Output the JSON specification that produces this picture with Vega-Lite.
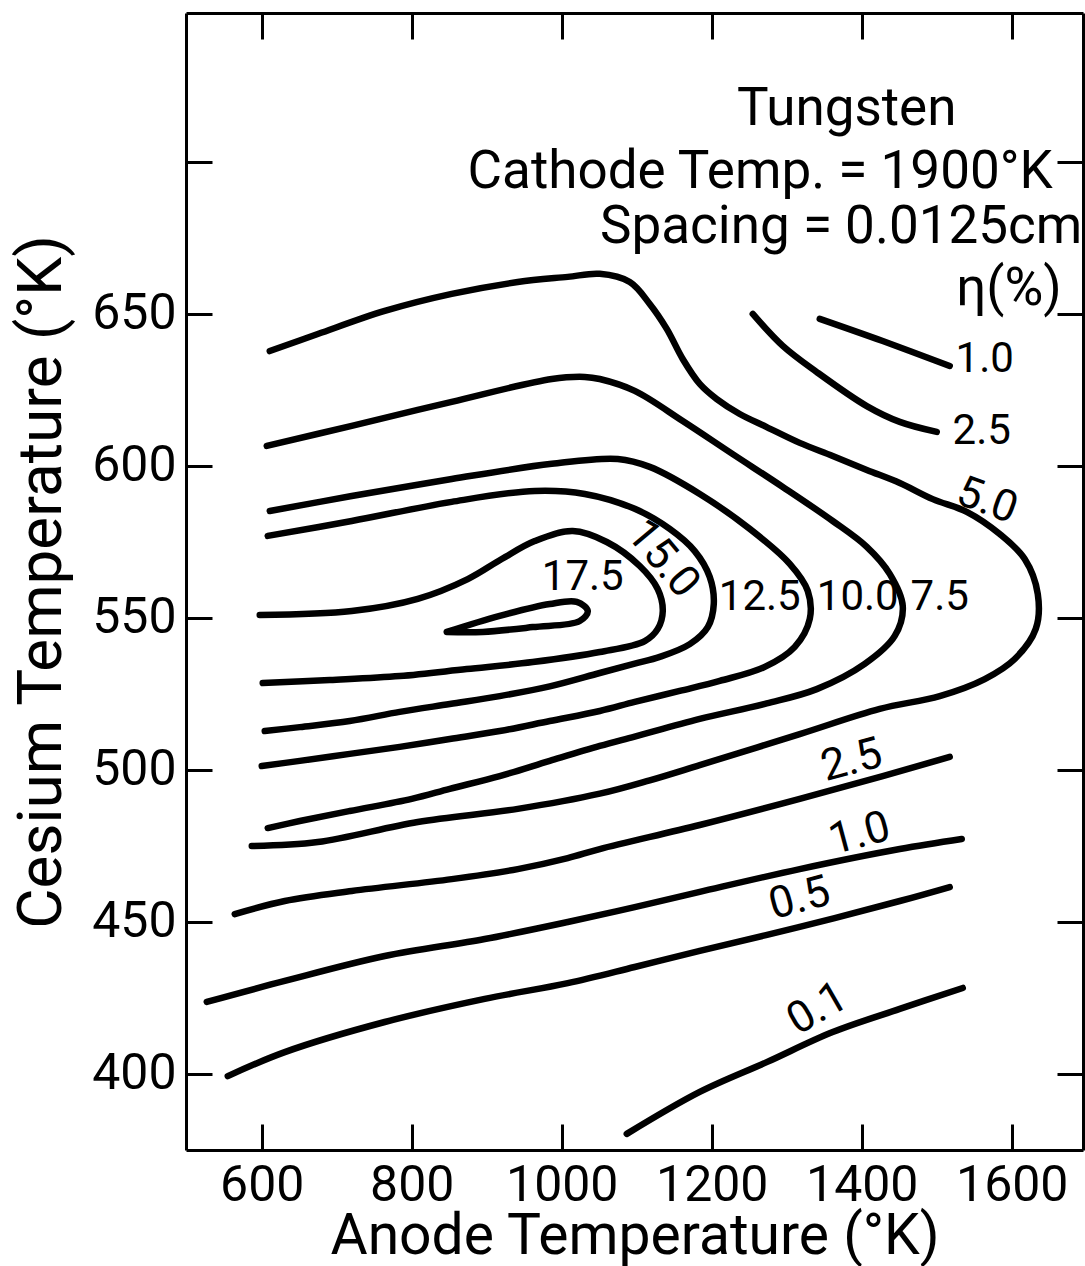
{
  "$schema": "https://vega.github.io/schema/vega-lite/v6.json",
  "width": 897,
  "height": 1137,
  "autosize": {"type": "none"},
  "padding": {"left": 186, "top": 13, "right": 2, "bottom": 116},
  "background": "white",
  "config": {
    "view": {"stroke": null},
    "axis": {
      "grid": false,
      "domainColor": "black",
      "domainWidth": 3,
      "tickColor": "black",
      "tickWidth": 3,
      "tickSize": -26,
      "labelFont": "Roboto",
      "labelFontSize": 50,
      "labelColor": "black",
      "labelFlush": false,
      "labelOverlap": false,
      "titleFont": "Roboto",
      "titleFontWeight": "normal",
      "titleColor": "black"
    }
  },
  "datasets": {
    "contours": [
      {"c": "5.0", "i": 0, "x": 610.7, "y": 637.8},
      {"c": "5.0", "i": 1, "x": 674.7, "y": 643.4},
      {"c": "5.0", "i": 2, "x": 764, "y": 651.0},
      {"c": "5.0", "i": 3, "x": 853.3, "y": 656.6},
      {"c": "5.0", "i": 4, "x": 941.3, "y": 660.5},
      {"c": "5.0", "i": 5, "x": 1008, "y": 662.2},
      {"c": "5.0", "i": 6, "x": 1050.7, "y": 663.2},
      {"c": "5.0", "i": 7, "x": 1090.7, "y": 660.5},
      {"c": "5.0", "i": 8, "x": 1117.3, "y": 653.3},
      {"c": "5.0", "i": 9, "x": 1140, "y": 645.1},
      {"c": "5.0", "i": 10, "x": 1161.3, "y": 635.2},
      {"c": "5.0", "i": 11, "x": 1184, "y": 627.0},
      {"c": "5.0", "i": 12, "x": 1206.7, "y": 622.0},
      {"c": "5.0", "i": 13, "x": 1237.3, "y": 617.1},
      {"c": "5.0", "i": 14, "x": 1273.3, "y": 612.8},
      {"c": "5.0", "i": 15, "x": 1317.3, "y": 607.6},
      {"c": "5.0", "i": 16, "x": 1361.3, "y": 603.3},
      {"c": "5.0", "i": 17, "x": 1406.7, "y": 598.7},
      {"c": "5.0", "i": 18, "x": 1450.7, "y": 594.4},
      {"c": "5.0", "i": 19, "x": 1494.7, "y": 589.1},
      {"c": "5.0", "i": 20, "x": 1540, "y": 584.9},
      {"c": "5.0", "i": 21, "x": 1584, "y": 577.6},
      {"c": "5.0", "i": 22, "x": 1617.3, "y": 569.4},
      {"c": "5.0", "i": 23, "x": 1634.7, "y": 557.9},
      {"c": "5.0", "i": 24, "x": 1632, "y": 546.4},
      {"c": "5.0", "i": 25, "x": 1604, "y": 536.5},
      {"c": "5.0", "i": 26, "x": 1564, "y": 529.9},
      {"c": "5.0", "i": 27, "x": 1504, "y": 524.3},
      {"c": "5.0", "i": 28, "x": 1424, "y": 520.1},
      {"c": "5.0", "i": 29, "x": 1317.3, "y": 511.8},
      {"c": "5.0", "i": 30, "x": 1184, "y": 501.6},
      {"c": "5.0", "i": 31, "x": 1117.3, "y": 496.6},
      {"c": "5.0", "i": 32, "x": 1050.7, "y": 492.2},
      {"c": "5.0", "i": 33, "x": 941.3, "y": 487.2},
      {"c": "5.0", "i": 34, "x": 808, "y": 482.9},
      {"c": "5.0", "i": 35, "x": 674.7, "y": 476.3},
      {"c": "5.0", "i": 36, "x": 586.7, "y": 475.0},

      {"c": "7.5", "i": 0, "x": 606.7, "y": 606.6},
      {"c": "7.5", "i": 1, "x": 720, "y": 613.2},
      {"c": "7.5", "i": 2, "x": 853.3, "y": 621.1},
      {"c": "7.5", "i": 3, "x": 986.7, "y": 628.6},
      {"c": "7.5", "i": 4, "x": 1030.7, "y": 629.3},
      {"c": "7.5", "i": 5, "x": 1050.7, "y": 628.6},
      {"c": "7.5", "i": 6, "x": 1097.3, "y": 624.7},
      {"c": "7.5", "i": 7, "x": 1161.3, "y": 614.8},
      {"c": "7.5", "i": 8, "x": 1228, "y": 603.9},
      {"c": "7.5", "i": 9, "x": 1294.7, "y": 593.1},
      {"c": "7.5", "i": 10, "x": 1361.3, "y": 581.9},
      {"c": "7.5", "i": 11, "x": 1406.7, "y": 573.4},
      {"c": "7.5", "i": 12, "x": 1437.3, "y": 564.5},
      {"c": "7.5", "i": 13, "x": 1454.7, "y": 553.9},
      {"c": "7.5", "i": 14, "x": 1444, "y": 544.1},
      {"c": "7.5", "i": 15, "x": 1404, "y": 534.9},
      {"c": "7.5", "i": 16, "x": 1340, "y": 526.6},
      {"c": "7.5", "i": 17, "x": 1273.3, "y": 521.9},
      {"c": "7.5", "i": 18, "x": 1184, "y": 516.8},
      {"c": "7.5", "i": 19, "x": 1097.3, "y": 511.0},
      {"c": "7.5", "i": 20, "x": 1050.7, "y": 507.9},
      {"c": "7.5", "i": 21, "x": 984, "y": 503.0},
      {"c": "7.5", "i": 22, "x": 917.3, "y": 498.0},
      {"c": "7.5", "i": 23, "x": 850.7, "y": 493.8},
      {"c": "7.5", "i": 24, "x": 800, "y": 490.5},
      {"c": "7.5", "i": 25, "x": 717.3, "y": 486.5},
      {"c": "7.5", "i": 26, "x": 650.7, "y": 483.2},
      {"c": "7.5", "i": 27, "x": 608, "y": 480.9},

      {"c": "10.0", "i": 0, "x": 610.7, "y": 585.2},
      {"c": "10.0", "i": 1, "x": 720, "y": 590.1},
      {"c": "10.0", "i": 2, "x": 853.3, "y": 595.7},
      {"c": "10.0", "i": 3, "x": 986.7, "y": 600.7},
      {"c": "10.0", "i": 4, "x": 1074.7, "y": 602.3},
      {"c": "10.0", "i": 5, "x": 1117.3, "y": 599.7},
      {"c": "10.0", "i": 6, "x": 1184, "y": 590.8},
      {"c": "10.0", "i": 7, "x": 1250.7, "y": 579.3},
      {"c": "10.0", "i": 8, "x": 1304, "y": 567.8},
      {"c": "10.0", "i": 9, "x": 1328, "y": 558.9},
      {"c": "10.0", "i": 10, "x": 1330.7, "y": 549.7},
      {"c": "10.0", "i": 11, "x": 1310.7, "y": 540.5},
      {"c": "10.0", "i": 12, "x": 1270.7, "y": 533.9},
      {"c": "10.0", "i": 13, "x": 1210.7, "y": 529.3},
      {"c": "10.0", "i": 14, "x": 1157.3, "y": 526.0},
      {"c": "10.0", "i": 15, "x": 1097.3, "y": 522.4},
      {"c": "10.0", "i": 16, "x": 1050.7, "y": 519.4},
      {"c": "10.0", "i": 17, "x": 984, "y": 516.1},
      {"c": "10.0", "i": 18, "x": 917.3, "y": 512.8},
      {"c": "10.0", "i": 19, "x": 850.7, "y": 510.2},
      {"c": "10.0", "i": 20, "x": 784, "y": 507.6},
      {"c": "10.0", "i": 21, "x": 717.3, "y": 505.3},
      {"c": "10.0", "i": 22, "x": 650.7, "y": 503.0},
      {"c": "10.0", "i": 23, "x": 600, "y": 501.3},

      {"c": "12.5", "i": 0, "x": 608, "y": 577.0},
      {"c": "12.5", "i": 1, "x": 720, "y": 581.9},
      {"c": "12.5", "i": 2, "x": 853.3, "y": 588.2},
      {"c": "12.5", "i": 3, "x": 964, "y": 591.8},
      {"c": "12.5", "i": 4, "x": 1030.7, "y": 590.8},
      {"c": "12.5", "i": 5, "x": 1097.3, "y": 585.9},
      {"c": "12.5", "i": 6, "x": 1144, "y": 579.3},
      {"c": "12.5", "i": 7, "x": 1177.3, "y": 572.0},
      {"c": "12.5", "i": 8, "x": 1197.3, "y": 563.5},
      {"c": "12.5", "i": 9, "x": 1202.7, "y": 554.6},
      {"c": "12.5", "i": 10, "x": 1194.7, "y": 547.0},
      {"c": "12.5", "i": 11, "x": 1170.7, "y": 541.4},
      {"c": "12.5", "i": 12, "x": 1130.7, "y": 537.2},
      {"c": "12.5", "i": 13, "x": 1097.3, "y": 535.0},
      {"c": "12.5", "i": 14, "x": 1050.7, "y": 531.9},
      {"c": "12.5", "i": 15, "x": 984, "y": 527.5},
      {"c": "12.5", "i": 16, "x": 917.3, "y": 524.3},
      {"c": "12.5", "i": 17, "x": 850.7, "y": 521.7},
      {"c": "12.5", "i": 18, "x": 784, "y": 519.1},
      {"c": "12.5", "i": 19, "x": 717.3, "y": 516.1},
      {"c": "12.5", "i": 20, "x": 650.7, "y": 514.1},
      {"c": "12.5", "i": 21, "x": 604, "y": 512.8},

      {"c": "15.0", "i": 0, "x": 597.3, "y": 551.0},
      {"c": "15.0", "i": 1, "x": 720, "y": 552.3},
      {"c": "15.0", "i": 2, "x": 808, "y": 556.3},
      {"c": "15.0", "i": 3, "x": 874.7, "y": 562.8},
      {"c": "15.0", "i": 4, "x": 920, "y": 569.4},
      {"c": "15.0", "i": 5, "x": 964, "y": 575.3},
      {"c": "15.0", "i": 6, "x": 1014.7, "y": 578.6},
      {"c": "15.0", "i": 7, "x": 1060, "y": 575.0},
      {"c": "15.0", "i": 8, "x": 1104, "y": 567.1},
      {"c": "15.0", "i": 9, "x": 1128, "y": 559.5},
      {"c": "15.0", "i": 10, "x": 1134.7, "y": 552.3},
      {"c": "15.0", "i": 11, "x": 1128, "y": 546.4},
      {"c": "15.0", "i": 12, "x": 1110.7, "y": 542.4},
      {"c": "15.0", "i": 13, "x": 1050.7, "y": 538.8},
      {"c": "15.0", "i": 14, "x": 961.3, "y": 535.5},
      {"c": "15.0", "i": 15, "x": 873.3, "y": 533.2},
      {"c": "15.0", "i": 16, "x": 784, "y": 530.9},
      {"c": "15.0", "i": 17, "x": 690.7, "y": 529.6},
      {"c": "15.0", "i": 18, "x": 601.3, "y": 528.6},

      {"c": "17.5", "i": 0, "x": 846.7, "y": 545.4},
      {"c": "17.5", "i": 1, "x": 917.3, "y": 550.7},
      {"c": "17.5", "i": 2, "x": 984, "y": 554.6},
      {"c": "17.5", "i": 3, "x": 1020, "y": 555.3},
      {"c": "17.5", "i": 4, "x": 1034.7, "y": 552.3},
      {"c": "17.5", "i": 5, "x": 1024, "y": 549.0},
      {"c": "17.5", "i": 6, "x": 961.3, "y": 547.0},
      {"c": "17.5", "i": 7, "x": 894.7, "y": 545.4},
      {"c": "17.5", "i": 8, "x": 846.7, "y": 545.4},

      {"c": "2.5 upper", "i": 0, "x": 1254.7, "y": 650.0},
      {"c": "2.5 upper", "i": 1, "x": 1294.7, "y": 639.5},
      {"c": "2.5 upper", "i": 2, "x": 1340, "y": 630.9},
      {"c": "2.5 upper", "i": 3, "x": 1406.7, "y": 619.7},
      {"c": "2.5 upper", "i": 4, "x": 1450.7, "y": 614.5},
      {"c": "2.5 upper", "i": 5, "x": 1500, "y": 611.2},

      {"c": "1.0 upper", "i": 0, "x": 1344, "y": 648.4},
      {"c": "1.0 upper", "i": 1, "x": 1428, "y": 641.1},
      {"c": "1.0 upper", "i": 2, "x": 1517.3, "y": 632.9},

      {"c": "2.5 lower", "i": 0, "x": 564, "y": 452.6},
      {"c": "2.5 lower", "i": 1, "x": 630.7, "y": 456.9},
      {"c": "2.5 lower", "i": 2, "x": 720, "y": 460.2},
      {"c": "2.5 lower", "i": 3, "x": 853.3, "y": 464.1},
      {"c": "2.5 lower", "i": 4, "x": 941.3, "y": 467.4},
      {"c": "2.5 lower", "i": 5, "x": 1008, "y": 471.0},
      {"c": "2.5 lower", "i": 6, "x": 1050.7, "y": 474.0},
      {"c": "2.5 lower", "i": 7, "x": 1184, "y": 481.9},
      {"c": "2.5 lower", "i": 8, "x": 1317.3, "y": 490.5},
      {"c": "2.5 lower", "i": 9, "x": 1428, "y": 498.0},
      {"c": "2.5 lower", "i": 10, "x": 1517.3, "y": 504.3},

      {"c": "1.0 lower", "i": 0, "x": 526.7, "y": 423.7},
      {"c": "1.0 lower", "i": 1, "x": 630.7, "y": 430.6},
      {"c": "1.0 lower", "i": 2, "x": 764, "y": 438.8},
      {"c": "1.0 lower", "i": 3, "x": 897.3, "y": 444.4},
      {"c": "1.0 lower", "i": 4, "x": 1008, "y": 450.0},
      {"c": "1.0 lower", "i": 5, "x": 1097.3, "y": 454.9},
      {"c": "1.0 lower", "i": 6, "x": 1184, "y": 459.9},
      {"c": "1.0 lower", "i": 7, "x": 1317.3, "y": 467.4},
      {"c": "1.0 lower", "i": 8, "x": 1450.7, "y": 474.0},
      {"c": "1.0 lower", "i": 9, "x": 1533.3, "y": 477.3},

      {"c": "0.5", "i": 0, "x": 554.7, "y": 399.3},
      {"c": "0.5", "i": 1, "x": 630.7, "y": 407.2},
      {"c": "0.5", "i": 2, "x": 764, "y": 417.1},
      {"c": "0.5", "i": 3, "x": 897.3, "y": 424.7},
      {"c": "0.5", "i": 4, "x": 1008, "y": 429.9},
      {"c": "0.5", "i": 5, "x": 1097.3, "y": 435.2},
      {"c": "0.5", "i": 6, "x": 1184, "y": 440.5},
      {"c": "0.5", "i": 7, "x": 1317.3, "y": 448.4},
      {"c": "0.5", "i": 8, "x": 1450.7, "y": 456.9},
      {"c": "0.5", "i": 9, "x": 1517.3, "y": 461.5},

      {"c": "0.1", "i": 0, "x": 1086.7, "y": 380.3},
      {"c": "0.1", "i": 1, "x": 1184, "y": 394.1},
      {"c": "0.1", "i": 2, "x": 1273.3, "y": 403.9},
      {"c": "0.1", "i": 3, "x": 1361.3, "y": 413.8},
      {"c": "0.1", "i": 4, "x": 1450.7, "y": 421.4},
      {"c": "0.1", "i": 5, "x": 1534.7, "y": 428.3}
    ],
    "labels": [
      {"t": "1.0", "x": 1564, "y": 635.2, "g": "a0"},
      {"t": "2.5", "x": 1560, "y": 611.5, "g": "a0"},
      {"t": "5.0", "x": 1566.7, "y": 588.5, "g": "a20"},
      {"t": "15.0", "x": 1134.7, "y": 569.4, "g": "a50"},
      {"t": "17.5", "x": 1028, "y": 563.5, "g": "a0"},
      {"t": "12.5", "x": 1264, "y": 556.9, "g": "a0"},
      {"t": "10.0", "x": 1394.7, "y": 556.9, "g": "a0"},
      {"t": "7.5", "x": 1504, "y": 556.9, "g": "a0"},
      {"t": "2.5", "x": 1386.7, "y": 503, "g": "am15"},
      {"t": "1.0", "x": 1397.3, "y": 478.9, "g": "am15"},
      {"t": "0.5", "x": 1317.3, "y": 457.6, "g": "am15"},
      {"t": "0.1", "x": 1341.3, "y": 421.4, "g": "am30"}
    ],
    "notes": [
      {"t": "Tungsten", "x": 1380, "y": 717.4, "a": "center"},
      {"t": "Cathode Temp. = 1900°K", "x": 1654.7, "y": 696.7, "a": "right"},
      {"t": "Spacing = 0.0125cm", "x": 1694, "y": 678.6, "a": "right"},
      {"t": "η(%)", "x": 1666.7, "y": 658.2, "a": "right"}
    ]
  },
  "layer": [
    {
      "data": {"name": "contours"},
      "mark": {"type": "line", "interpolate": "catmull-rom", "stroke": "black", "strokeWidth": 6.5, "strokeCap": "round", "strokeJoin": "round"},
      "encoding": {
        "x": {
          "field": "x", "type": "quantitative",
          "scale": {"domain": [499, 1695], "nice": false, "zero": false},
          "axis": {"orient": "bottom", "values": [600, 800, 1000, 1200, 1400, 1600], "format": "d", "labelPadding": 36, "title": "Anode Temperature (°K)", "titleFontSize": 57, "titlePadding": -2}
        },
        "y": {
          "field": "y", "type": "quantitative",
          "scale": {"domain": [375, 749], "nice": false, "zero": false},
          "axis": {"orient": "left", "values": [400, 450, 500, 550, 600, 650, 700], "format": "d", "labelExpr": "datum.value == 700 ? '' : datum.label", "labelPadding": 36, "title": "Cesium Temperature (°K)", "titleFontSize": 62, "titlePadding": 18}
        },
        "detail": {"field": "c"},
        "order": {"field": "i", "type": "quantitative"}
      }
    },
    {
      "data": {"name": "labels"},
      "transform": [{"filter": "datum.g == 'a0'"}],
      "mark": {"type": "text", "font": "Roboto", "fontSize": 42, "color": "black", "baseline": "middle", "align": "center"},
      "encoding": {
        "x": {"field": "x", "type": "quantitative", "axis": {"orient": "top", "values": [600, 800, 1000, 1200, 1400, 1600], "labels": false, "title": null}},
        "y": {"field": "y", "type": "quantitative", "axis": {"orient": "right", "values": [400, 450, 500, 550, 600, 650, 700], "labels": false, "title": null}},
        "text": {"field": "t"}
      }
    },
    {
      "data": {"name": "labels"},
      "transform": [{"filter": "datum.g == 'a20'"}],
      "mark": {"type": "text", "font": "Roboto", "fontSize": 44, "color": "black", "baseline": "middle", "align": "center", "angle": 20},
      "encoding": {
        "x": {"field": "x", "type": "quantitative", "axis": null},
        "y": {"field": "y", "type": "quantitative", "axis": null},
        "text": {"field": "t"}
      }
    },
    {
      "data": {"name": "labels"},
      "transform": [{"filter": "datum.g == 'a50'"}],
      "mark": {"type": "text", "font": "Roboto", "fontSize": 44, "color": "black", "baseline": "middle", "align": "center", "angle": 50},
      "encoding": {
        "x": {"field": "x", "type": "quantitative", "axis": null},
        "y": {"field": "y", "type": "quantitative", "axis": null},
        "text": {"field": "t"}
      }
    },
    {
      "data": {"name": "labels"},
      "transform": [{"filter": "datum.g == 'am15'"}],
      "mark": {"type": "text", "font": "Roboto", "fontSize": 44, "color": "black", "baseline": "middle", "align": "center", "angle": -15},
      "encoding": {
        "x": {"field": "x", "type": "quantitative", "axis": null},
        "y": {"field": "y", "type": "quantitative", "axis": null},
        "text": {"field": "t"}
      }
    },
    {
      "data": {"name": "labels"},
      "transform": [{"filter": "datum.g == 'am30'"}],
      "mark": {"type": "text", "font": "Roboto", "fontSize": 44, "color": "black", "baseline": "middle", "align": "center", "angle": -30},
      "encoding": {
        "x": {"field": "x", "type": "quantitative", "axis": null},
        "y": {"field": "y", "type": "quantitative", "axis": null},
        "text": {"field": "t"}
      }
    },
    {
      "data": {"name": "notes"},
      "transform": [{"filter": "datum.a == 'center'"}],
      "mark": {"type": "text", "font": "Roboto", "fontSize": 53, "color": "black", "baseline": "middle", "align": "center"},
      "encoding": {
        "x": {"field": "x", "type": "quantitative", "axis": null},
        "y": {"field": "y", "type": "quantitative", "axis": null},
        "text": {"field": "t"}
      }
    },
    {
      "data": {"name": "notes"},
      "transform": [{"filter": "datum.a == 'right'"}],
      "mark": {"type": "text", "font": "Roboto", "fontSize": 53, "color": "black", "baseline": "middle", "align": "right"},
      "encoding": {
        "x": {"field": "x", "type": "quantitative", "axis": null},
        "y": {"field": "y", "type": "quantitative", "axis": null},
        "text": {"field": "t"}
      }
    }
  ]
}
